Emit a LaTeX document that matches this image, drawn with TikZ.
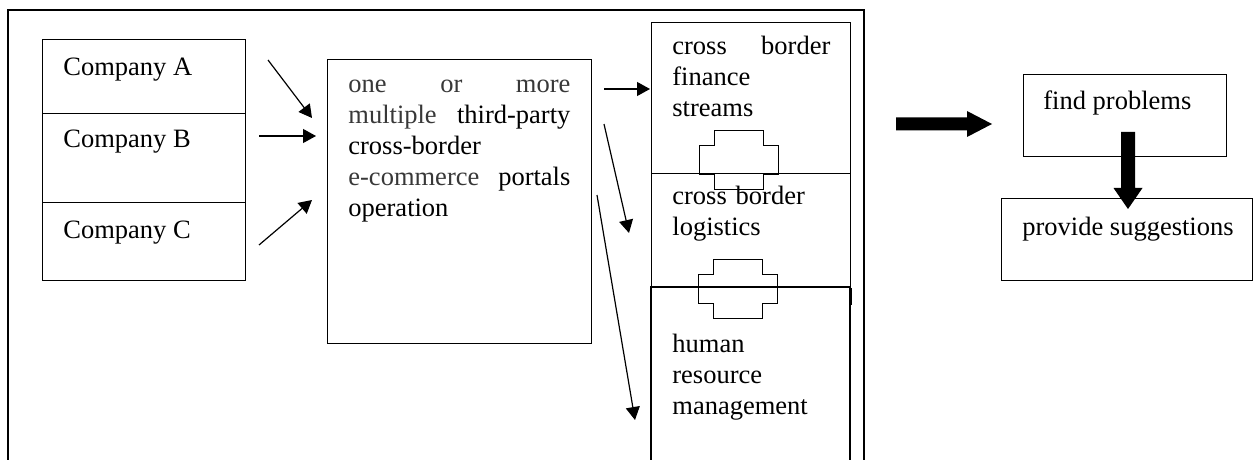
\documentclass[tikz,border=0pt]{standalone}
\usepackage{fontspec}
\setmainfont{Liberation Serif}
\usetikzlibrary{arrows.meta,calc}
\colorlet{softink}{black!78}
\tikzset{
  plug/.pic={
    \draw[line width=0.7pt] (-24.5,-29.5) -- (24.5,-29.5) -- (24.5,-14.5) -- (39.5,-14.5)
      -- (39.5,14.5) -- (24.5,14.5) -- (24.5,29.5) -- (-24.5,29.5) -- (-24.5,14.5)
      -- (-39.5,14.5) -- (-39.5,-14.5) -- (-24.5,-14.5) -- cycle;
  }
}
\begin{document}
\begin{tikzpicture}[x=0.5pt,y=-0.5pt,
  box/.style={draw,line width=0.7pt,inner sep=0pt,anchor=north west},
  lbl/.style={inner sep=0pt,anchor=base west,font=\fontsize{13.25}{15.5}\selectfont},
  flow/.style={line width=0.6pt,-{Triangle[length=6.5pt,width=7pt]}}]
\useasboundingbox (0,0) rectangle (1254,460);

% outer frame, open at the bottom
\coordinate (oBL) at (8,460);
\coordinate (oTL) at (8,10);
\coordinate (oTR) at (864,10);
\coordinate (oBR) at (864,460);
\draw[line width=0.75pt] (oBL) -- (oTL) -- (oTR) -- (oBR);

% companies
\node[box,minimum width=101.5pt,minimum height=37pt]   (cA) at (42,39) {};
\node[box,minimum width=101.5pt,minimum height=44.5pt] (cB) at (42,113) {};
\node[box,minimum width=101.5pt,minimum height=39pt]   (cC) at (42,202) {};
\node[lbl] (tA) at ($(cA.north west)+(21,37)$) {Company A};
\node[lbl] (tB) at ($(cB.north west)+(21,35)$) {Company B};
\node[lbl] (tC) at ($(cC.north west)+(21,36)$) {Company C};

% portal operation
\node[box,minimum width=132pt,minimum height=142pt] (ops) at (327,59) {};
\node[lbl,text width=111pt,align=left] (tOps) at ($(ops.north west)+(21,34)$)
  {\textcolor{softink}{one\hfill or\hfill more}\\
   \textcolor{softink}{multiple}\hfill third-party\\
   cross-border\\
   \textcolor{softink}{e-commerce}\hfill portals\\
   operation};

% business areas column
\node[box,minimum width=99.5pt,minimum height=75.5pt] (fin) at (651,22) {};
\node[box,minimum width=99.5pt,minimum height=57pt]   (log) at (651,173) {};
\node[inner sep=0pt,anchor=north west,minimum width=99pt,minimum height=86.5pt] (hrm) at (651,287) {};
\draw[line width=0.7pt] (hrm.south west) -- (hrm.north west) -- (hrm.north east) -- (hrm.south east);
\draw[line width=0.7pt] (log.south east) -- ++(0,17);
\node[lbl,text width=79pt,align=left] (tFin) at ($(fin.north west)+(21,33)$)
  {cross\hfill border\\finance\\streams};
\node[lbl,text width=79pt,align=left] (tLog) at ($(log.north west)+(21,32)$)
  {cross border\\logistics};
\node[lbl,text width=79pt,align=left] (tHrm) at ($(hrm.north west)+(21,65)$)
  {human\\resource\\management};
\pic at ($(fin.south)+(-12,-14.5)$) {plug};
\pic at ($(log.south)+(-13.5,0.5)$) {plug};

% flows into the portal operation
\coordinate (aA1) at (268,60);  \coordinate (aA2) at (312,118);
\coordinate (aB1) at (259,136); \coordinate (aB2) at (316,136);
\coordinate (aC1) at (259,245); \coordinate (aC2) at (312,200);
\draw[flow] (aA1) -- (aA2);
\draw[flow] (aB1) -- (aB2);
\draw[flow] (aC1) -- (aC2);

% flows out to the business areas
\coordinate (aF1) at (604,89);  \coordinate (aF2) at (650,89);
\coordinate (aL1) at (604,124); \coordinate (aL2) at (629,233);
\coordinate (aH1) at (597,195); \coordinate (aH2) at (635,420);
\draw[flow] (aF1) -- (aF2);
\draw[flow] (aL1) -- (aL2);
\draw[flow] (aH1) -- (aH2);

% outcome
\node[box,minimum width=101.5pt,minimum height=41pt]  (find) at (1023,74) {};
\node[box,minimum width=125.5pt,minimum height=41pt]  (sugg) at (1001,198) {};
\node[lbl] (tFind) at ($(find.north west)+(20,36)$) {find problems};
\node[lbl] (tSugg) at ($(sugg.north west)+(21,37)$) {provide suggestions};

% block arrows
\coordinate (bigS) at (896,124); \coordinate (bigE) at (992,124);
\fill ($(bigS)+(0,-6.5)$) -- ($(bigE)+(-25,-6.5)$) -- ($(bigE)+(-25,-13)$) -- (bigE)
  -- ($(bigE)+(-25,13)$) -- ($(bigE)+(-25,6.5)$) -- ($(bigS)+(0,6.5)$) -- cycle;
\coordinate (dnS) at (1128,132); \coordinate (dnE) at (1128,209);
\fill ($(dnS)+(-7,0)$) -- ($(dnE)+(-7,-21)$) -- ($(dnE)+(-14.5,-21)$) -- (dnE)
  -- ($(dnE)+(14.5,-21)$) -- ($(dnE)+(7,-21)$) -- ($(dnS)+(7,0)$) -- cycle;
\end{tikzpicture}
\end{document}
